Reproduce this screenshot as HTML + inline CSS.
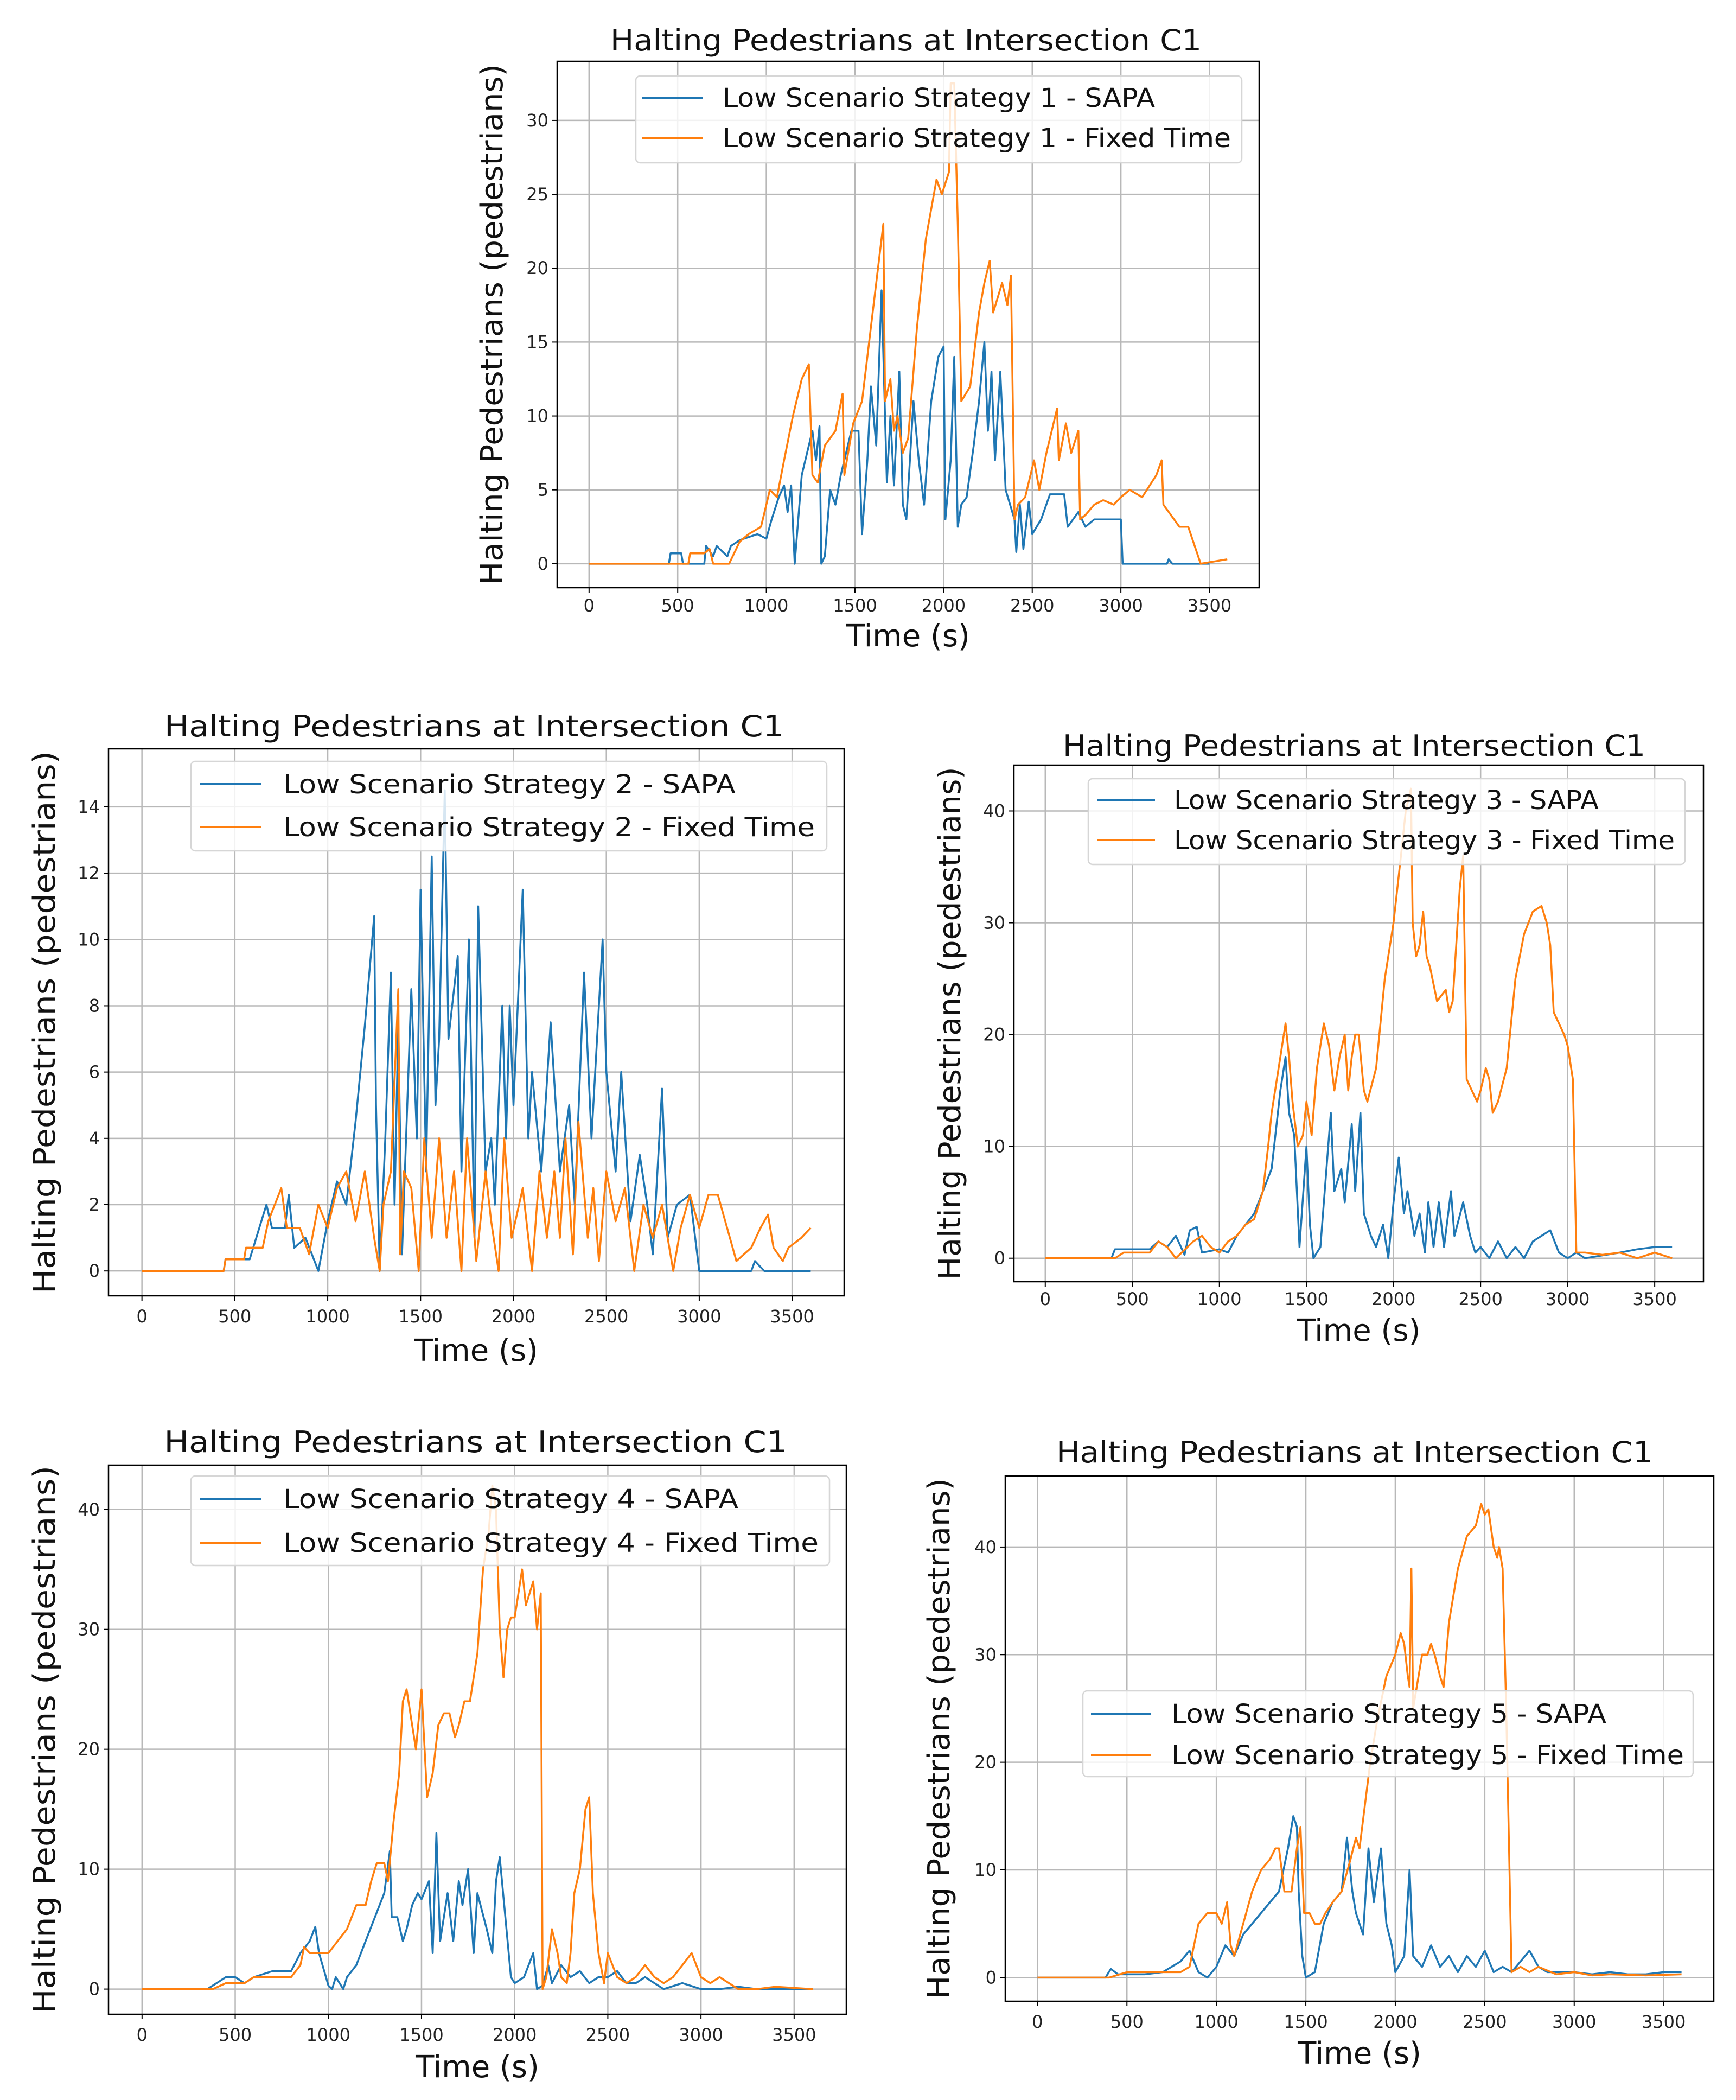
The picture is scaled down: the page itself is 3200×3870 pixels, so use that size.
<!DOCTYPE html>
<html><head><meta charset="utf-8"><style>
html,body{margin:0;padding:0;background:#fff;}
svg{display:block;font-family:"DejaVu Sans","Liberation Sans",sans-serif;}
</style></head><body>
<svg id="root" width="3200" height="3870" viewBox="0 0 3200 3870" xmlns="http://www.w3.org/2000/svg"></svg>
<script>
// ---- data (time s, halting pedestrians) ----
const xTicks=[0,500,1000,1500,2000,2500,3000,3500];
const p1SapaT=[0,450,460,520,530,650,660,700,720,780,800,850,950,1000,1030,1070,1100,1120,1140,1160,1200,1230,1260,1280,1300,1310,1330,1360,1390,1420,1450,1480,1520,1540,1570,1590,1620,1650,1680,1700,1720,1750,1770,1790,1830,1860,1890,1930,1970,2000,2010,2040,2060,2080,2100,2130,2170,2200,2230,2250,2270,2290,2320,2350,2400,2410,2430,2450,2480,2500,2550,2600,2680,2700,2760,2800,2850,2900,3000,3010,3260,3270,3290,3500];
const p1SapaV=[0,0,0.7,0.7,0,0,1.2,0.5,1.2,0.5,1.2,1.6,2,1.7,3,4.5,5.3,3.5,5.3,0,6,7.5,9,7,9.3,0,0.5,5,4,6,7.5,9,9,2,7,12,8,18.5,5.5,10,5.3,13,4,3,11,7,4,11,14,14.7,3,7,14,2.5,4,4.5,8,11,15,9,13,7,13,5,3,0.8,4,1,4.2,2,3,4.7,4.7,2.5,3.5,2.5,3,3,3,0,0,0.3,0,0];
const p1FixT=[0,560,570,650,680,700,790,850,900,970,1000,1020,1060,1100,1150,1200,1240,1260,1290,1330,1390,1430,1440,1490,1540,1600,1640,1660,1670,1700,1720,1740,1770,1800,1850,1900,1960,1990,2030,2040,2060,2080,2100,2150,2200,2230,2260,2280,2330,2360,2380,2400,2420,2460,2510,2540,2580,2640,2650,2690,2720,2760,2770,2800,2850,2900,2960,3000,3050,3120,3200,3230,3240,3300,3330,3380,3450,3600];
const p1FixV=[0,0,0.7,0.7,1,0,0,1.5,2,2.5,4,5,4.5,7,10,12.5,13.5,6,5.5,8,9,11.5,6,9.5,11,17,21,23,11,12.5,9,10,7.5,8.5,16,22,26,25,26.5,32.5,32.5,23,11,12,17,19,20.5,17,19,17.5,19.5,3,4,4.5,7,5,7.5,10.5,7,9.5,7.5,9,3,3.3,4,4.3,4,4.5,5,4.5,6,7,4,3,2.5,2.5,0,0.3];
const p2SapaT=[0,440,450,580,670,700,770,790,820,880,950,1000,1050,1100,1150,1200,1250,1260,1280,1310,1340,1360,1380,1400,1450,1480,1500,1530,1560,1580,1600,1630,1650,1700,1720,1760,1790,1810,1850,1880,1900,1940,1960,1980,2000,2050,2080,2100,2150,2200,2250,2300,2330,2380,2420,2480,2500,2550,2580,2630,2680,2720,2750,2800,2830,2880,2950,3000,3280,3300,3350,3600];
const p2SapaV=[0,0,0.35,0.35,2,1.3,1.3,2.3,0.7,1,0,1.5,2.7,2,4.5,7.4,10.7,5,0,4,9,2,7.5,0.5,8.5,4,11.5,3,12.5,5,7,14.5,7,9.5,3,10,1,11,3,4,2,8,4,8,5,11.5,4,6,3,7.5,3,5,2,9,4,10,6,3,6,1.5,3.5,2,0.5,5.5,1,2,2.3,0,0,0.3,0,0];
const p2FixT=[0,440,450,550,560,650,680,750,780,850,900,950,1000,1050,1100,1150,1200,1250,1280,1300,1340,1380,1390,1410,1450,1490,1520,1560,1600,1640,1680,1720,1750,1770,1800,1850,1880,1920,1950,1990,2050,2100,2140,2180,2220,2250,2280,2320,2350,2400,2430,2460,2500,2550,2600,2650,2700,2750,2800,2860,2900,2950,3000,3050,3100,3150,3200,3280,3330,3370,3400,3450,3480,3550,3600];
const p2FixV=[0,0,0.35,0.35,0.7,0.7,1.5,2.5,1.3,1.3,0.5,2,1.3,2.5,3,1.5,3,1,0,2,3,8.5,0.5,3,2.5,0,4,1,4,1,3,0,4,2.5,0.3,3,1.5,0,4,1,2.5,0,3,1,3,1,4,0.5,4.5,1,2.5,0.3,3,1.5,2.5,0,2,1,2,0,1.3,2.3,1.3,2.3,2.3,1.3,0.3,0.7,1.3,1.7,0.7,0.3,0.7,1,1.3];
const p3SapaT=[0,380,400,600,650,700,750,800,830,870,900,1000,1050,1100,1150,1200,1250,1300,1350,1380,1400,1430,1460,1500,1520,1540,1580,1640,1660,1700,1720,1760,1780,1810,1830,1870,1900,1940,1970,2000,2030,2060,2080,2120,2150,2180,2200,2230,2260,2290,2330,2350,2400,2440,2470,2500,2550,2600,2650,2700,2750,2800,2850,2900,2950,3000,3050,3100,3300,3400,3500,3600];
const p3SapaV=[0,0,0.8,0.8,1.5,1,2,0.3,2.5,2.8,0.5,0.8,0.5,2,3,4,6,8,15,18,13,11,1,10,3,0,1,13,6,8,5,12,6,13,4,2,1,3,0,5,9,4,6,2,4,0.5,5,1,5,1,6,2,5,2,0.5,1,0,1.5,0,1,0,1.5,2,2.5,0.5,0,0.5,0,0.5,0.8,1,1];
const p3FixT=[0,400,450,600,650,700,750,850,900,950,1000,1050,1100,1150,1200,1250,1280,1300,1350,1380,1400,1420,1450,1480,1500,1530,1560,1600,1630,1660,1690,1720,1740,1760,1780,1800,1830,1850,1900,1950,2000,2050,2070,2100,2110,2130,2150,2170,2190,2210,2250,2300,2320,2340,2380,2400,2420,2450,2480,2500,2530,2550,2570,2600,2650,2700,2750,2800,2850,2880,2900,2920,2950,2980,3000,3030,3050,3100,3200,3300,3400,3500,3600];
const p3FixV=[0,0,0.5,0.5,1.5,1,0,1.5,2,1,0.5,1.5,2,3,3.5,6,10,13,18,21,18,14,10,11,14,11,17,21,19,15,18,20,15,18,20,20,15,14,17,25,30,37,40,42,30,27,28,31,27,26,23,24,22,23,33,36,16,15,14,15,17,16,13,14,17,25,29,31,31.5,30,28,22,21,20,19,16,0.5,0.5,0.3,0.5,0,0.5,0];
const p4SapaT=[0,350,400,450,500,550,600,700,800,850,900,930,950,1000,1020,1040,1080,1100,1150,1200,1250,1300,1330,1340,1370,1400,1420,1450,1480,1500,1540,1560,1580,1600,1640,1670,1700,1720,1750,1780,1800,1850,1880,1900,1920,1950,1980,2000,2050,2100,2120,2150,2180,2200,2250,2300,2350,2400,2450,2500,2550,2600,2650,2700,2750,2800,2900,3000,3100,3200,3300,3600];
const p4SapaV=[0,0,0.5,1,1,0.5,1,1.5,1.5,3,4,5.2,3,0.3,0,1,0,1,2,4,6,8,11.5,6,6,4,5,7,8,7.5,9,3,13,4,8,4,9,7,10,3,8,5,3,9,11,6,1,0.5,1,3,0,0.3,2,0.5,2,1,1.5,0.5,1,1,1.5,0.5,0.5,1,0.5,0,0.5,0,0,0.2,0,0];
const p4FixT=[0,380,450,550,600,750,800,850,870,900,1000,1050,1100,1150,1200,1230,1260,1300,1320,1350,1380,1400,1420,1450,1470,1500,1530,1560,1590,1620,1650,1680,1700,1730,1760,1800,1830,1860,1880,1900,1920,1940,1960,1980,2000,2020,2040,2060,2080,2100,2120,2140,2150,2170,2200,2230,2250,2280,2300,2320,2350,2380,2400,2420,2450,2480,2500,2550,2600,2650,2700,2750,2800,2850,2900,2950,3000,3050,3100,3200,3300,3400,3600];
const p4FixV=[0,0,0.5,0.5,1,1,1,2,3.5,3,3,4,5,7,7,9,10.5,10.5,9,14,18,24,25,22,20,25,16,18,22,23,23,21,22,24,24,28,35,38,42,40,30,26,30,31,31,33,35,32,33,34,30,33,0,1,5,3,1,0.5,3,8,10,15,16,8,3,0.5,3,1,0.5,1,2,1,0.5,1,2,3,1,0.5,1,0,0,0.2,0];
const p5SapaT=[0,380,410,450,600,700,750,800,850,900,950,1000,1050,1100,1150,1200,1250,1300,1350,1400,1430,1450,1460,1480,1500,1550,1600,1650,1700,1730,1760,1780,1820,1850,1880,1920,1950,1980,2000,2050,2080,2100,2150,2200,2250,2300,2350,2400,2450,2500,2550,2600,2650,2700,2750,2800,2850,2900,3000,3100,3200,3300,3400,3500,3600];
const p5SapaV=[0,0,0.8,0.3,0.3,0.5,1,1.5,2.5,0.5,0,1,3,2,4,5,6,7,8,12,15,14,8,2,0,0.5,5,7,8,13,8,6,4,12,7,12,5,3,0.5,2,10,2,1,3,1,2,0.5,2,1,2.5,0.5,1,0.5,1.5,2.5,1,0.5,0.5,0.5,0.3,0.5,0.3,0.3,0.5,0.5];
const p5FixT=[0,400,500,800,850,900,950,1000,1030,1060,1080,1100,1150,1200,1250,1300,1330,1350,1380,1400,1420,1450,1470,1490,1520,1550,1580,1610,1650,1700,1750,1780,1800,1830,1860,1900,1950,2000,2030,2050,2070,2080,2090,2100,2130,2150,2180,2200,2220,2250,2270,2300,2350,2400,2450,2480,2500,2520,2550,2570,2580,2600,2620,2650,2700,2750,2800,2900,3000,3100,3200,3400,3600];
const p5FixV=[0,0,0.5,0.5,1,5,6,6,5,7,3,2,5,8,10,11,12,12,8,8,8,12,14,6,6,5,5,6,7,8,11,13,12,16,20,24,28,30,32,31,28,27,38,25,28,30,30,31,30,28,27,33,38,41,42,44,43,43.5,40,39,40,38,25,0.5,1,0.5,1,0.3,0.5,0.2,0.3,0.2,0.3];

const BLUE='#1f77b4', ORANGE='#ff7f0e';
const NS='http://www.w3.org/2000/svg';
const root=document.getElementById('root');
function mk(tag,attrs,parent){const e=document.createElementNS(NS,tag);for(const k in attrs)e.setAttribute(k,attrs[k]);(parent||root).appendChild(e);return e;}

const plots=[
 {id:1,L:1027,R:2321,T:113,B:1083,ymin:-1.62,ymax:34.0,yTicks:[0,5,10,15,20,25,30],sT:p1SapaT,sV:p1SapaV,fT:p1FixT,fV:p1FixV,
  title:{x:1670,y:93,w:1090},xl:{y:1191},tk:{y:1127},yl:{x:906,len:960},
  lg:{x1:1172,y1:140,x2:2289,y2:300,hx1:1184,hx2:1295,tx:1332,r1:180,r2:254,w1:797,w2:937}},
 {id:2,L:200,R:1556,T:1380,B:2388,ymin:-0.75,ymax:15.75,yTicks:[0,2,4,6,8,10,12,14],sT:p2SapaT,sV:p2SapaV,fT:p2FixT,fV:p2FixV,
  title:{x:874,y:1357,w:1142},xl:{y:2508},tk:{y:2437},yl:{x:81,len:1000},
  lg:{x1:352,y1:1403,x2:1524,y2:1568,hx1:369,hx2:482,tx:522,r1:1445,r2:1524,w1:834,w2:980}},
 {id:3,L:1869,R:3140,T:1410,B:2362,ymin:-2.1,ymax:44.1,yTicks:[0,10,20,30,40],sT:p3SapaT,sV:p3SapaV,fT:p3FixT,fV:p3FixV,
  title:{x:2496,y:1393,w:1074},xl:{y:2471},tk:{y:2405},yl:{x:1750,len:945},
  lg:{x1:2006,y1:1435,x2:3106,y2:1593,hx1:2023,hx2:2129,tx:2164,r1:1474,r2:1548,w1:783,w2:923}},
 {id:4,L:200,R:1560,T:2700,B:3712,ymin:-2.1,ymax:43.7,yTicks:[0,10,20,30,40],sT:p4SapaT,sV:p4SapaV,fT:p4FixT,fV:p4FixV,
  title:{x:877,y:2676,w:1149},xl:{y:3828},tk:{y:3761},yl:{x:81,len:1010},
  lg:{x1:352,y1:2720,x2:1529,y2:2885,hx1:369,hx2:482,tx:522,r1:2762,r2:2843,w1:839,w2:987}},
 {id:5,L:1853,R:3159,T:2720,B:3688,ymin:-2.2,ymax:46.6,yTicks:[0,10,20,30,40],sT:p5SapaT,sV:p5SapaV,fT:p5FixT,fV:p5FixV,
  title:{x:2497,y:2695,w:1100},xl:{y:3803},tk:{y:3737},yl:{x:1730,len:960},
  lg:{x1:1996,y1:3116,x2:3121,y2:3274,hx1:2011,hx2:2122,tx:2159,r1:3158,r2:3234,w1:802,w2:945}}
];

plots.forEach(p=>{
  const g=mk('g',{});
  
  
  const sx=v=>p.L+(v+180)/3960*(p.R-p.L);
  const sy=v=>p.B-(v-p.ymin)/(p.ymax-p.ymin)*(p.B-p.T);
  xTicks.forEach(t=>{
    const l=mk('line',{x1:sx(t),x2:sx(t),y1:p.T,y2:p.B,stroke:'#b8b8b8','stroke-width':2.5},g);
    
    
    mk('line',{x1:sx(t),x2:sx(t),y1:p.B,y2:p.B+9,stroke:'#000','stroke-width':2},g);
    const tx=mk('text',{x:sx(t),y:p.tk.y,'font-size':32,'text-anchor':'middle',fill:'#222'},g);
    tx.textContent=t;
    
    
  });
  p.yTicks.forEach(t=>{
    const l=mk('line',{x1:p.L,x2:p.R,y1:sy(t),y2:sy(t),stroke:'#b8b8b8','stroke-width':2.5},g);
    
    
    mk('line',{x1:p.L-9,x2:p.L,y1:sy(t),y2:sy(t),stroke:'#000','stroke-width':2},g);
    const tx=mk('text',{x:p.L-16,y:sy(t)+11,'font-size':32,'text-anchor':'end',fill:'#222'},g);
    tx.textContent=t;
    
    
  });
  const line=(T,V,c,nm)=>{
    const pts=T.map((t,i)=>sx(t).toFixed(1)+','+sy(V[i]).toFixed(1)).join(' ');
    const pl=mk('polyline',{points:pts,fill:'none',stroke:c,'stroke-width':3.5,'stroke-linejoin':'round'},g);
    
    
  };
  line(p.sT,p.sV,BLUE,'sapa-line');
  line(p.fT,p.fV,ORANGE,'fixed-time-line');
  const fr=mk('rect',{x:p.L,y:p.T,width:p.R-p.L,height:p.B-p.T,fill:'none',stroke:'#000','stroke-width':2.5},g);
  
  
  const lg=p.lg;
  const lgG=mk('g',{},g);
  
  
  mk('rect',{x:lg.x1,y:lg.y1,width:lg.x2-lg.x1,height:lg.y2-lg.y1,rx:8,fill:'#fff','fill-opacity':0.82,stroke:'#d6d6d6','stroke-width':2.5},lgG);
  [[lg.r1,BLUE,'Low Scenario Strategy '+p.id+' - SAPA',lg.w1,'legend-entry-sapa'],[lg.r2,ORANGE,'Low Scenario Strategy '+p.id+' - Fixed Time',lg.w2,'legend-entry-fixed-time']].forEach(r=>{
    const e=mk('g',{},lgG);
    
    
    mk('line',{x1:lg.hx1,x2:lg.hx2,y1:r[0],y2:r[0],stroke:r[1],'stroke-width':4},e);
    const t=mk('text',{x:lg.tx,y:r[0]+17,'font-size':48,fill:'#111',textLength:r[3],lengthAdjust:'spacingAndGlyphs'},e);
    t.textContent=r[2];
  });
  const ti=mk('text',{x:p.title.x,y:p.title.y,'font-size':54,'text-anchor':'middle',fill:'#111',textLength:p.title.w,lengthAdjust:'spacingAndGlyphs'},g);
  ti.textContent='Halting Pedestrians at Intersection C1';
  
  
  const xl=mk('text',{x:(p.L+p.R)/2,y:p.xl.y,'font-size':56,'text-anchor':'middle',fill:'#111'},g);
  xl.textContent='Time (s)';
  
  
  const cy=(p.T+p.B)/2;
  const yl=mk('text',{x:p.yl.x,y:cy,'font-size':56,'text-anchor':'middle',fill:'#111',transform:'rotate(-90 '+p.yl.x+' '+cy+')',dy:20,textLength:p.yl.len,lengthAdjust:'spacingAndGlyphs'},g);
  yl.textContent='Halting Pedestrians (pedestrians)';
  
  
});
</script>
</body></html>
